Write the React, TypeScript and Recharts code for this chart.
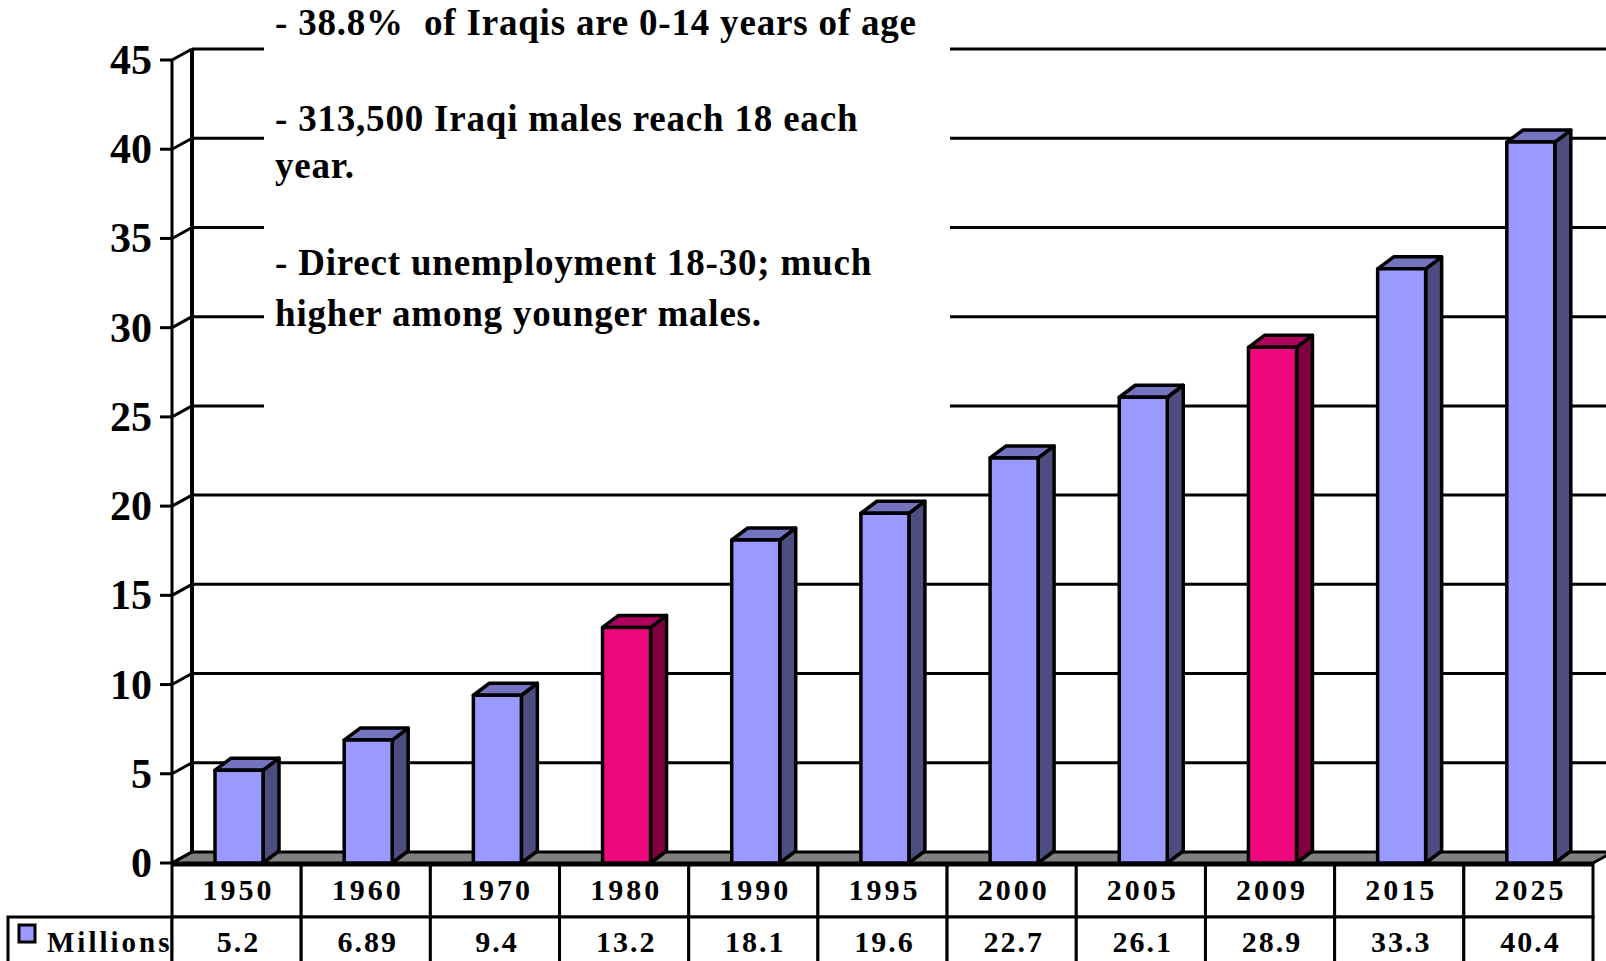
import { BarChart, Bar, XAxis, YAxis, CartesianGrid } from 'recharts';

const years = ['1950', '1960', '1970', '1980', '1990', '1995', '2000', '2005', '2009', '2015', '2025'];
const millions = [5.2, 6.89, 9.4, 13.2, 18.1, 19.6, 22.7, 26.1, 28.9, 33.3, 40.4];
const highlightYears = ['1980', '2009'];
const yTicks = [0, 5, 10, 15, 20, 25, 30, 35, 40, 45];
const notes = [
  '- 38.8%  of Iraqis are 0-14 years of age',
  '- 313,500 Iraqi males reach 18 each',
  'year.',
  '- Direct unemployment 18-30; much',
  'higher among younger males.',
];

const data = years.map((year, i) => ({ year, value: millions[i] }));

const W = 1606;
const H = 961;
const Y_AXIS_W = 172;
const X_AXIS_H = 98;
const M_TOP = 60;
const M_RIGHT = 13;
const PLOT_LEFT = Y_AXIS_W;
const PLOT_RIGHT = W - M_RIGHT;
const PLOT_BOTTOM = H - X_AXIS_H;
const PLOT_W = PLOT_RIGHT - PLOT_LEFT;
// wall depth and bar depth
const DX = 20;
const DY = -11;
const BDX = 16;
const BDY = -12;

const FONT = '"Liberation Serif", "Times New Roman", serif';

const GridLine = (p: any) => {
  const { x1, x2, y1 } = p;
  const isBottom = Math.abs(y1 - PLOT_BOTTOM) < 1;
  const isTop = Math.abs(y1 - M_TOP) < 1;
  return (
    <g key={`g-${y1}`}>
      {isBottom ? (
        <polygon
          points={`${x1},${y1} ${x2},${y1} ${x2 + DX},${y1 + DY} ${x1 + DX},${y1 + DY}`}
          fill="#808080"
          stroke="#000"
          strokeWidth={3}
        />
      ) : (
        <line x1={x1 + DX} y1={y1 + DY} x2={W} y2={y1 + DY} stroke="#000" strokeWidth={3} />
      )}
      {isTop && (
        <line x1={x1 + DX} y1={y1 + DY} x2={x1 + DX} y2={PLOT_BOTTOM + DY} stroke="#000" strokeWidth={4} />
      )}
    </g>
  );
};

const YTick = (p: any) => {
  const { y, payload } = p;
  return (
    <g>
      <line x1={PLOT_LEFT - 12} y1={y} x2={PLOT_LEFT} y2={y} stroke="#000" strokeWidth={3} />
      <line x1={PLOT_LEFT} y1={y} x2={PLOT_LEFT + DX} y2={y + DY} stroke="#000" strokeWidth={3} />
      <text x={PLOT_LEFT - 20} y={y + 14} textAnchor="end" fontFamily={FONT} fontWeight="bold" fontSize={42} fill="#000">
        {payload.value}
      </text>
    </g>
  );
};

const ROW1_TOP = PLOT_BOTTOM + 2;
const ROW2_TOP = 917;
const ROW_END = H + 10;

const TableTick = (p: any) => {
  const { x, index } = p;
  const bw = PLOT_W / years.length;
  const left = x - bw / 2;
  return (
    <g>
      {index === 0 && (
        <g>
          <rect x={8} y={ROW2_TOP} width={PLOT_LEFT - 8} height={ROW_END - ROW2_TOP} fill="#fff" stroke="#000" strokeWidth={3} />
          <rect x={19} y={925} width={16} height={17} fill="#9999FF" stroke="#000" strokeWidth={3} />
          <text x={47} y={952} fontFamily={FONT} fontWeight="bold" fontSize={29} letterSpacing={3} fill="#000">
            Millions
          </text>
        </g>
      )}
      <rect x={left} y={ROW1_TOP} width={bw} height={ROW2_TOP - ROW1_TOP} fill="#fff" stroke="#000" strokeWidth={3} />
      <rect x={left} y={ROW2_TOP} width={bw} height={ROW_END - ROW2_TOP} fill="#fff" stroke="#000" strokeWidth={3} />
      <text x={x + 2} y={900} textAnchor="middle" fontFamily={FONT} fontWeight="bold" fontSize={30} letterSpacing={3} fill="#000">
        {years[index]}
      </text>
      <text x={x + 2} y={952} textAnchor="middle" fontFamily={FONT} fontWeight="bold" fontSize={30} letterSpacing={2} fill="#000">
        {String(millions[index])}
      </text>
    </g>
  );
};

const Bar3D = (p: any) => {
  const { x, y, width, height, payload } = p;
  const hl = highlightYears.includes(payload.year);
  const front = hl ? '#F0087F' : '#9999FF';
  const side = hl ? '#80003F' : '#4D4D80';
  const top = hl ? '#B0005F' : '#7373BF';
  const x0 = x + 2;
  const r = x0 + width;
  return (
    <g stroke="#000" strokeWidth={3.5} strokeLinejoin="round">
      <polygon points={`${r},${y} ${r + BDX},${y + BDY} ${r + BDX},${y + height + BDY} ${r},${y + height}`} fill={side} />
      <polygon points={`${x0},${y} ${x0 + BDX},${y + BDY} ${r + BDX},${y + BDY} ${r},${y}`} fill={top} />
      <rect x={x0} y={y} width={width} height={height} fill={front} />
    </g>
  );
};

const noteTops = [35, 131, 178, 275, 326];

export default function App() {
  return (
    <div style={{ position: 'absolute', left: 0, top: 0, width: W, height: H, background: '#fff', overflow: 'hidden' }}>
      <BarChart width={W} height={H} data={data} margin={{ top: M_TOP, right: M_RIGHT, bottom: 0, left: 0 }}>
        <CartesianGrid vertical={false} horizontal={GridLine} />
        <XAxis
          dataKey="year"
          height={X_AXIS_H}
          interval={0}
          axisLine={false}
          tickLine={false}
          tick={TableTick}
        />
        <YAxis
          width={Y_AXIS_W}
          domain={[0, 45]}
          ticks={yTicks}
          interval={0}
          axisLine={{ stroke: '#000', strokeWidth: 3 }}
          tickLine={false}
          tick={YTick}
        />
        <Bar dataKey="value" barSize={48} shape={Bar3D} isAnimationActive={false} />
      </BarChart>
      <div
        style={{
          position: 'absolute',
          left: 264,
          top: 0,
          width: 686,
          height: 440,
          background: '#fff',
        }}
      >
        <svg width={686} height={440}>
          {notes.map((n, i) => (
            <text
              key={i}
              x={11}
              y={noteTops[i]}
              fontFamily={FONT}
              fontWeight="bold"
              fontSize={37}
              letterSpacing={0.8}
              fill="#000"
              style={{ whiteSpace: 'pre' }}
            >
              {n}
            </text>
          ))}
        </svg>
      </div>
    </div>
  );
}
